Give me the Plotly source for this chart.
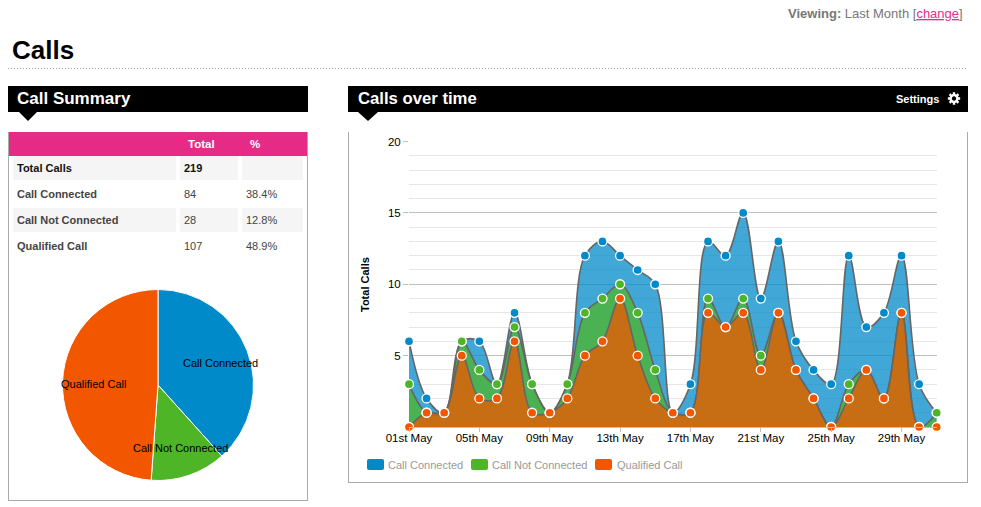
import plotly.graph_objects as go
import numpy as np

W, H = 981, 507
FONT = "Liberation Sans"

days = list(range(1, 32))
tick_days = [1, 5, 9, 13, 17, 21, 25, 29]
tick_labels = ["01st May", "05th May", "09th May", "13th May", "17th May", "21st May", "25th May", "29th May"]
y_ticks = [5, 10, 15, 20]

qualified = [0, 1, 1, 5, 2, 2, 6, 1, 1, 2, 5, 6, 9, 5, 2, 1, 1, 8, 7, 8, 4, 8, 4, 2, 0, 2, 4, 2, 8, 0, 0]
not_connected = [3, 0, 0, 1, 2, 1, 1, 2, 0, 1, 3, 3, 1, 3, 2, 0, 0, 1, 0, 1, 1, 0, 0, 0, 0, 1, 0, 0, 0, 0, 1]
connected = [3, 1, 0, 0, 2, 0, 1, 0, 0, 0, 4, 4, 2, 3, 6, 0, 2, 4, 5, 6, 4, 5, 2, 2, 3, 9, 3, 6, 4, 3, 0]

series_names = ["Call Connected", "Call Not Connected", "Qualified Call"]
series_colors = ["#008AC9", "#4DB526", "#F25700"]
series_fills = ["rgba(0,138,201,0.75)", "rgba(77,181,38,0.75)", "rgba(242,87,0,0.75)"]

table_headers = ["Total", "%"]
table_rows = [
    ("Total Calls", "219", ""),
    ("Call Connected", "84", "38.4%"),
    ("Call Not Connected", "28", "12.8%"),
    ("Qualified Call", "107", "48.9%"),
]
pie_values = [84, 28, 107]


def X(p):
    return p / W


def Y(p):
    return 1 - p / H


top_q = np.array(qualified)
top_n = top_q + np.array(not_connected)
top_c = top_n + np.array(connected)
tops = [top_c, top_n, top_q]

fig = go.Figure()

for name, fill, top in zip(series_names, series_fills, tops):
    fig.add_trace(go.Scatter(
        x=days, y=top, name=name, mode="lines", fill="tozeroy", fillcolor=fill,
        line=dict(color="#666666", width=1.6, shape="spline", smoothing=1.0),
        cliponaxis=True, showlegend=False, hoverinfo="skip",
    ))
for name, color, top in zip(series_names, series_colors, tops):
    fig.add_trace(go.Scatter(
        x=days, y=top, name=name, mode="markers",
        marker=dict(color=color, size=9, line=dict(color="white", width=1.3)),
        cliponaxis=False, showlegend=False,
    ))

fig.add_trace(go.Pie(
    labels=series_names, values=pie_values, sort=False, direction="clockwise", rotation=0,
    marker=dict(colors=series_colors, line=dict(color="white", width=1)),
    textinfo="none", showlegend=False,
    domain=dict(x=[X(62.5), X(253.5)], y=[Y(480.5), Y(289.5)]),
))

shapes = []


def rect(x0, y0, x1, y1, fill):
    shapes.append(dict(type="rect", xref="paper", yref="paper", x0=X(x0), x1=X(x1), y0=Y(y0), y1=Y(y1),
                       fillcolor=fill, line=dict(width=0), layer="below"))


def poly(points, fill, layer="below"):
    d = "M " + " L ".join(f"{X(a):.5f},{Y(b):.5f}" for a, b in points) + " Z"
    shapes.append(dict(type="path", path=d, xref="paper", yref="paper", fillcolor=fill, line=dict(width=0), layer=layer))


def round_rect(x0, y0, x1, y1, r, fill):
    p = lambda a, b: f"{X(a):.5f},{Y(b):.5f}"
    d = (f"M {p(x0 + r, y0)} L {p(x1 - r, y0)} Q {p(x1, y0)} {p(x1, y0 + r)} L {p(x1, y1 - r)} "
         f"Q {p(x1, y1)} {p(x1 - r, y1)} L {p(x0 + r, y1)} Q {p(x0, y1)} {p(x0, y1 - r)} "
         f"L {p(x0, y0 + r)} Q {p(x0, y0)} {p(x0 + r, y0)} Z")
    shapes.append(dict(type="path", path=d, xref="paper", yref="paper", fillcolor=fill, line=dict(width=0), layer="below"))


def hline(x0, x1, y, color, dash="solid"):
    shapes.append(dict(type="line", xref="paper", yref="paper", x0=X(x0), x1=X(x1), y0=Y(y), y1=Y(y),
                       line=dict(color=color, width=1, dash=dash), layer="below"))


def vline(x, y0, y1, color):
    shapes.append(dict(type="line", xref="paper", yref="paper", x0=X(x), x1=X(x), y0=Y(y0), y1=Y(y1),
                       line=dict(color=color, width=1), layer="below"))


def gear(cx, cy, r_out, r_in, hole):
    pts = []
    for k in range(8):
        a0 = k * np.pi / 4
        for da, r in [(-0.26, r_in), (-0.2, r_out), (0.2, r_out), (0.26, r_in)]:
            pts.append((cx + r * np.cos(a0 + da), cy + r * np.sin(a0 + da)))
    poly(pts, "#FFFFFF")
    hole_pts = [(cx + hole * np.cos(k * np.pi / 8), cy + hole * np.sin(k * np.pi / 8)) for k in range(16)]
    poly(hole_pts, "#000000")


anns = []


def text(x, y, s, size=11, color="#444444", anchor="left", family=FONT, angle=0):
    anns.append(dict(xref="paper", yref="paper", x=X(x), y=Y(y), text=s, showarrow=False, xanchor=anchor,
                     yanchor="middle", borderpad=0, borderwidth=0, textangle=angle,
                     font=dict(family=family, size=size, color=color)))


# page header
text(963, 13, '<b>Viewing:</b> Last Month [<span style="color:#E62B87;text-decoration:underline">change</span>]',
     size=13, color="#777777", anchor="right")
text(12, 50, "<b>Calls</b>", size=26, color="#000000")
hline(8, 968, 68.5, "#999999", "1px,2px")

# section headers
rect(8, 86, 308, 112, "#000000")
poly([(19, 112), (37, 112), (28, 121)], "#000000")
text(17, 98, "<b>Call Summary</b>", size=17, color="#FFFFFF")
rect(348, 86, 968, 112, "#000000")
poly([(358, 112), (378, 112), (368, 121)], "#000000")
text(358, 98, "<b>Calls over time</b>", size=16.7, color="#FFFFFF")
text(896, 99, "<b>Settings</b>", size=11, color="#FFFFFF")
gear(954, 98.5, 6.3, 4.6, 2.2)

# summary panel
vline(8.5, 132, 501, "#AAAAAA")
vline(307.5, 132, 501, "#AAAAAA")
hline(8, 308, 500.5, "#AAAAAA")
rect(9, 132, 307, 156, "#E62B87")
text(188, 144, f"<b>{table_headers[0]}</b>", size=11.5, color="#FFFFFF")
text(250, 144, f"<b>{table_headers[1]}</b>", size=11.5, color="#FFFFFF")
for i, (label, total, pct) in enumerate(table_rows):
    yc = 168 + 26 * i
    if i % 2 == 0:
        for a, b in [(13, 176), (180, 238), (242, 303)]:
            rect(a, yc - 12, b, yc + 12, "#F5F5F5")
    if i == 0:
        text(17, yc, f"<b>{label}</b>", size=11, color="#111111")
        text(184, yc, f"<b>{total}</b>", size=11, color="#111111")
    else:
        text(17, yc, f"<b>{label}</b>", size=11, color="#444444")
        text(184, yc, total, size=11, color="#444444")
        text(246, yc, pct, size=11, color="#444444")

# pie labels
text(220.5, 363, series_names[0], size=11, color="#000000", anchor="center")
text(180.5, 448, series_names[1], size=11, color="#000000", anchor="center")
text(93.5, 384, series_names[2], size=11, color="#000000", anchor="center")

# chart panel
vline(348.5, 132, 483, "#AAAAAA")
vline(967.5, 132, 483, "#AAAAAA")
hline(348, 968, 482.5, "#AAAAAA")

# axis title
text(365, 285, "<b>Total Calls</b>", size=11, color="#000000", anchor="center", angle=-90)

# legend
for (sx, tx), name, color in zip([(367, 388), (471, 492), (595, 617)], series_names, series_colors):
    round_rect(sx, 459, sx + 17, 470, 2, color)
    text(tx, 465, name, size=11, color="#999999")

fig.update_layout(
    width=W, height=H, autosize=False,
    margin=dict(l=0, r=0, t=0, b=0, pad=0),
    paper_bgcolor="white", plot_bgcolor="white",
    font=dict(family=FONT, size=11, color="#000000"),
    shapes=shapes, annotations=anns,
    xaxis=dict(
        domain=[X(409), X(936.7)], range=[1, 31],
        tickmode="array", tickvals=tick_days, ticktext=tick_labels,
        ticks="outside", ticklen=4, tickcolor="#C0C0C0", tickfont=dict(size=11.5, color="#000000"),
        ticklabelstandoff=-4,
        showgrid=False, zeroline=False, showline=True, linecolor="#C0C0C0", linewidth=1,
        automargin=False,
    ),
    yaxis=dict(
        domain=[Y(427), Y(141.5)], range=[0, 20],
        tickmode="array", tickvals=y_ticks, ticks="outside", ticklen=5, tickcolor="#C0C0C0",
        tickfont=dict(size=11.5, color="#000000"),
        showgrid=True, gridcolor="#C0C0C0", gridwidth=1, zeroline=False, showline=False,
        minor=dict(dtick=1, tick0=0, showgrid=True, gridcolor="#E6E6E6", gridwidth=1, ticks=""),
        automargin=False,
    ),
)

fig.write_html("out.html", config={"displayModeBar": False},
               post_script="document.body.style.margin='0';document.body.style.overflow='hidden';")
